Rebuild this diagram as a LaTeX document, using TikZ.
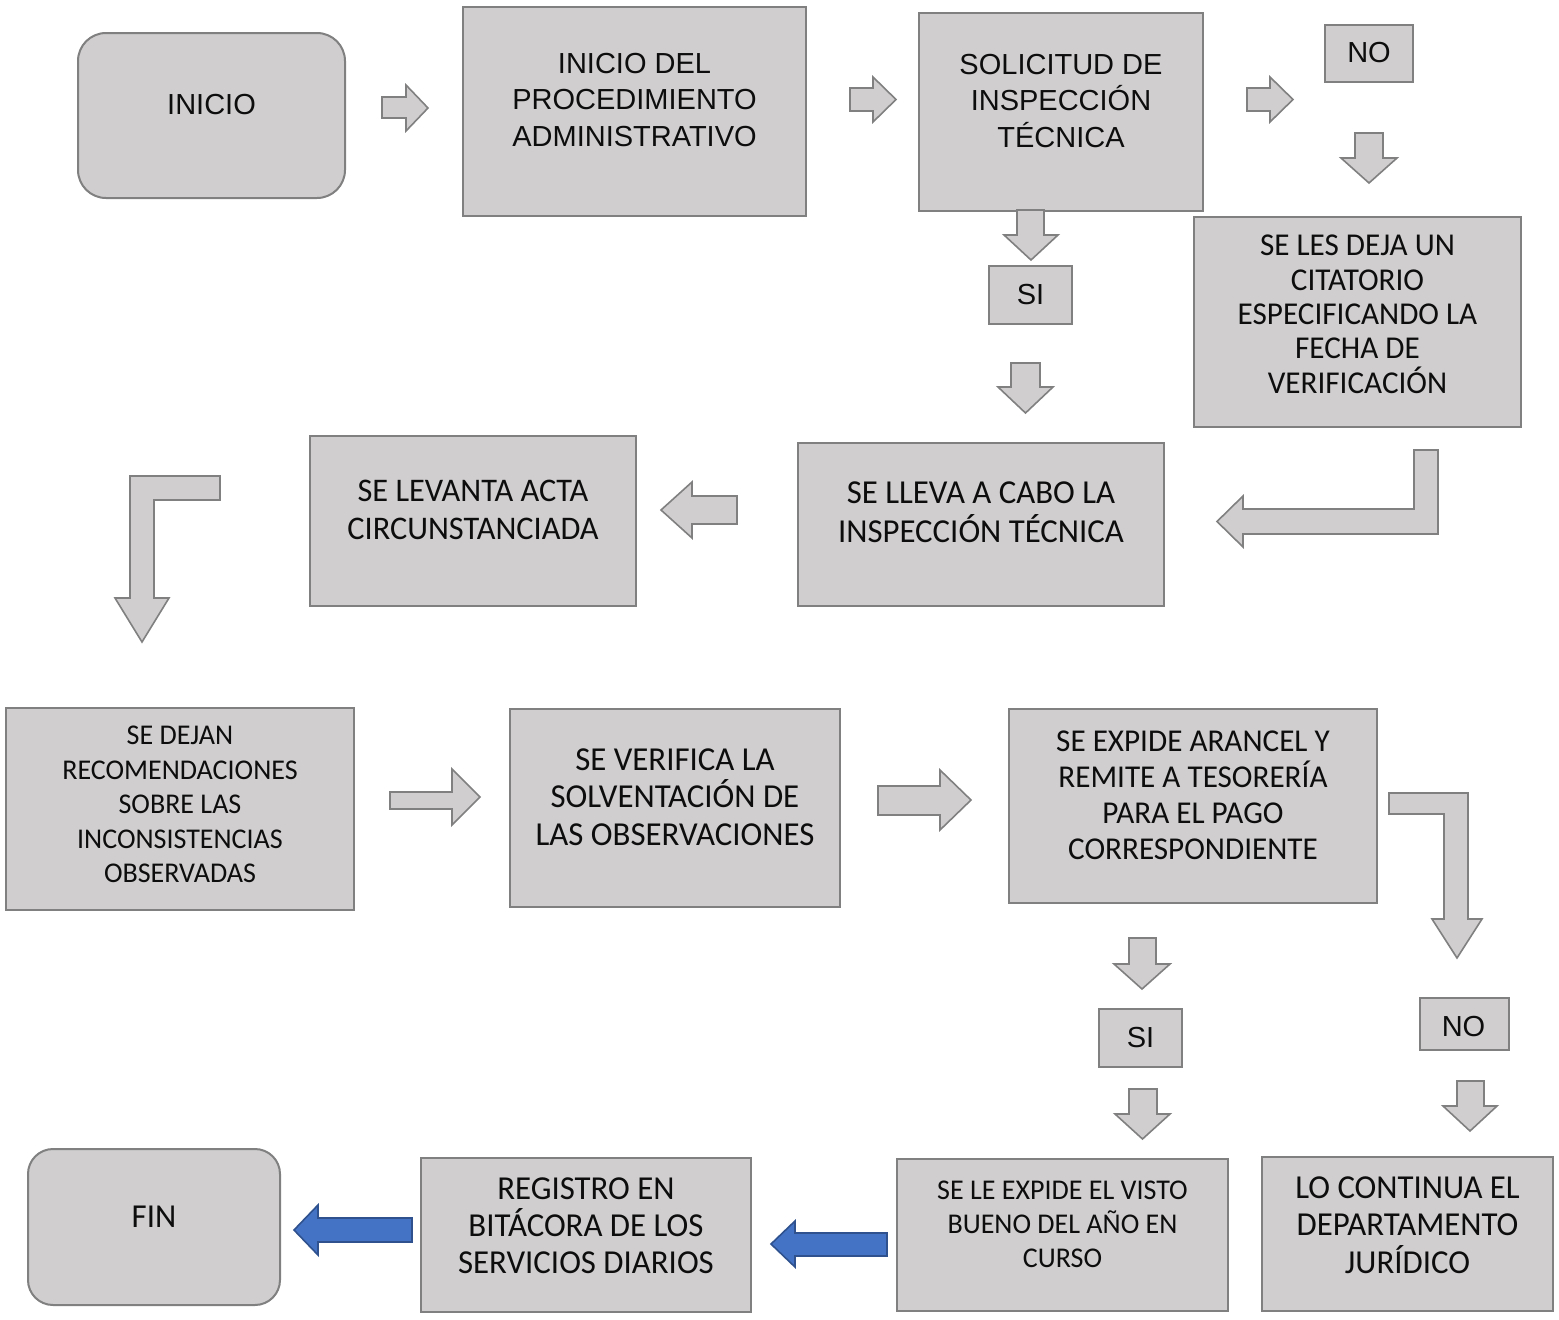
\documentclass[tikz,border=0pt]{standalone}
\usepackage{fontspec}
\setmainfont{Liberation Sans}
\newfontfamily\dinfont{Carlito}[FakeStretch=0.98]
\usetikzlibrary{fit}
\definecolor{boxfill}{HTML}{D0CECE}
\definecolor{boxedge}{HTML}{808080}
\definecolor{bluefill}{HTML}{4472C4}
\definecolor{blueedge}{HTML}{2F528F}
\definecolor{inkcol}{HTML}{0D0D0D}
\tikzset{
  stepbox/.style={draw=boxedge, fill=boxfill, line width=2, inner sep=0pt},
  roundbox/.style={stepbox, rounded corners=28},
  arialtxt/.style={font=\fontsize{29}{36.5}\selectfont, text=inkcol, align=center, anchor=north, inner sep=0pt},
  dintxt/.style args={#1/#2}{font=\dinfont\fontsize{#1}{#2}\selectfont, text=inkcol, align=center, anchor=north, inner sep=0pt},
  grayarrow/.style={draw=boxedge, fill=boxfill, line width=1.6, line join=miter},
  bluearrow/.style={draw=blueedge, fill=bluefill, line width=1.6, line join=miter},
}
\begin{document}
\begin{tikzpicture}[x=1pt, y=-1pt]
\useasboundingbox (0,0) rectangle (1559,1320);

% ---------- boxes ----------
\node[roundbox, fit={(78,33) (345,198)}]    (inicio) {};
\node[stepbox,  fit={(463,7) (806,216)}]    (proc)   {};
\node[stepbox,  fit={(919,13) (1203,211)}]  (solic)  {};
\node[stepbox,  fit={(1325,25) (1413,82)}]  (noA)    {};
\node[stepbox,  fit={(989,266) (1072,324)}] (siA)    {};
\node[stepbox,  fit={(1194,217) (1521,427)}] (cita)  {};
\node[stepbox,  fit={(798,443) (1164,606)}] (lleva)  {};
\node[stepbox,  fit={(310,436) (636,606)}]  (acta)   {};
\node[stepbox,  fit={(6,708) (354,910)}]    (dejan)  {};
\node[stepbox,  fit={(510,709) (840,907)}]  (verif)  {};
\node[stepbox,  fit={(1009,709) (1377,903)}] (arancel) {};
\node[stepbox,  fit={(1099,1009) (1182,1067)}] (siB) {};
\node[stepbox,  fit={(1420,998) (1509,1050)}]  (noB) {};
\node[roundbox, rounded corners=25, fit={(28,1149) (280,1305)}] (fin) {};
\node[stepbox,  fit={(421,1158) (751,1312)}]  (registro) {};
\node[stepbox,  fit={(897,1159) (1228,1311)}] (visto) {};
\node[stepbox,  fit={(1262,1157) (1553,1311)}] (juridico) {};

% ---------- texts ----------
\node[arialtxt] (tinicio) at (211.5,94) {INICIO};
\node[arialtxt] (tproc)   at (634.5,53) {INICIO DEL\\PROCEDIMIENTO\\ADMINISTRATIVO};
\node[arialtxt] (tsolic)  at (1061,54) {SOLICITUD DE\\INSPECCIÓN\\TÉCNICA};
\node[arialtxt] (tnoA)    at (1369,42) {NO};
\node[arialtxt] (tsiA)    at (1030.5,284) {SI};
\node[dintxt=31.8/34.3] (tcita) at (1357.5,235) {SE LES DEJA UN\\CITATORIO\\ESPECIFICANDO LA\\FECHA DE\\VERIFICACIÓN};
\node[dintxt=33.5/39]   (tlleva) at (981,482) {SE LLEVA A CABO LA\\INSPECCIÓN TÉCNICA};
\node[dintxt=33/38] (tacta)  at (473,480) {SE LEVANTA ACTA\\CIRCUNSTANCIADA};
\node[dintxt=28.6/34.5] (tdejan) at (180,726) {SE DEJAN\\RECOMENDACIONES\\SOBRE LAS\\INCONSISTENCIAS\\OBSERVADAS};
\node[dintxt=33.5/37.5] (tverif) at (675,748.5) {SE VERIFICA LA\\SOLVENTACIÓN DE\\LAS OBSERVACIONES};
\node[dintxt=31.8/36] (tarancel) at (1193,731) {SE EXPIDE ARANCEL Y\\REMITE A TESORERÍA\\PARA EL PAGO\\CORRESPONDIENTE};
\node[arialtxt] (tsiB) at (1140.5,1027) {SI};
\node[arialtxt] (tnoB) at (1463.5,1016) {NO};
\node[dintxt=33.5/37]   (tfin) at (154,1205.5) {FIN};
\node[dintxt=33.5/37]   (tregistro) at (586,1177.5) {REGISTRO EN\\BITÁCORA DE LOS\\SERVICIOS DIARIOS};
\node[dintxt=28.6/34] (tvisto) at (1062.5,1181) {SE LE EXPIDE EL VISTO\\BUENO DEL AÑO EN\\CURSO};
\node[dintxt=33.5/37.5] (tjuridico) at (1407.5,1176.5) {LO CONTINUA EL\\DEPARTAMENTO\\JURÍDICO};

% ---------- block arrows, first row ----------
\draw[grayarrow] (382,97) -- (406,97) -- (406,85) -- (428,108) -- (406,131) -- (406,118) -- (382,118) -- cycle;
\draw[grayarrow] (850,88) -- (873,88) -- (873,77) -- (896,99.5) -- (873,122) -- (873,111) -- (850,111) -- cycle;
\draw[grayarrow] (1247,88) -- (1270,88) -- (1270,77) -- (1293,99.5) -- (1270,122) -- (1270,111) -- (1247,111) -- cycle;
% down arrows
\draw[grayarrow] (1017,210) -- (1044,210) -- (1044,235) -- (1058,235) -- (1031,260) -- (1004,235) -- (1017,235) -- cycle;
\draw[grayarrow] (1355,133) -- (1383,133) -- (1383,158) -- (1397,158) -- (1369,183) -- (1341,158) -- (1355,158) -- cycle;
\draw[grayarrow] (1011,363) -- (1040,363) -- (1040,387) -- (1053,387) -- (1025.5,413) -- (998,387) -- (1011,387) -- cycle;

% ---------- second row ----------
\draw[grayarrow] (1414,450) -- (1438,450) -- (1438,534) -- (1243,534) -- (1243,547) -- (1217,521.5) -- (1243,496) -- (1243,509) -- (1414,509) -- cycle;
\draw[grayarrow] (737,496) -- (692,496) -- (692,482) -- (661,510) -- (692,538) -- (692,524) -- (737,524) -- cycle;
\draw[grayarrow] (220,476) -- (220,500) -- (154,500) -- (154,598) -- (169,598) -- (142,642) -- (115,598) -- (130,598) -- (130,476) -- cycle;

% ---------- third row ----------
\draw[grayarrow] (390,792) -- (452,792) -- (452,769) -- (480,797) -- (452,825) -- (452,809) -- (390,809) -- cycle;
\draw[grayarrow] (878,786) -- (940,786) -- (940,770) -- (971,800) -- (940,830) -- (940,815) -- (878,815) -- cycle;
\draw[grayarrow] (1389,793) -- (1468,793) -- (1468,919) -- (1482,919) -- (1457,958) -- (1432,919) -- (1444,919) -- (1444,814) -- (1389,814) -- cycle;
\draw[grayarrow] (1129,938) -- (1156,938) -- (1156,964) -- (1170,964) -- (1142,989) -- (1114,964) -- (1129,964) -- cycle;
\draw[grayarrow] (1129,1089) -- (1157,1089) -- (1157,1114) -- (1170,1114) -- (1142.5,1139) -- (1115,1114) -- (1129,1114) -- cycle;
\draw[grayarrow] (1457,1081) -- (1484,1081) -- (1484,1106) -- (1497,1106) -- (1470,1131) -- (1443,1106) -- (1457,1106) -- cycle;

% ---------- last row ----------
\draw[bluearrow] (412,1218) -- (318,1218) -- (318,1205) -- (294,1230) -- (318,1255) -- (318,1242) -- (412,1242) -- cycle;
\draw[bluearrow] (887,1233) -- (795,1233) -- (795,1221) -- (771,1244) -- (795,1267) -- (795,1256) -- (887,1256) -- cycle;
\end{tikzpicture}
\end{document}
